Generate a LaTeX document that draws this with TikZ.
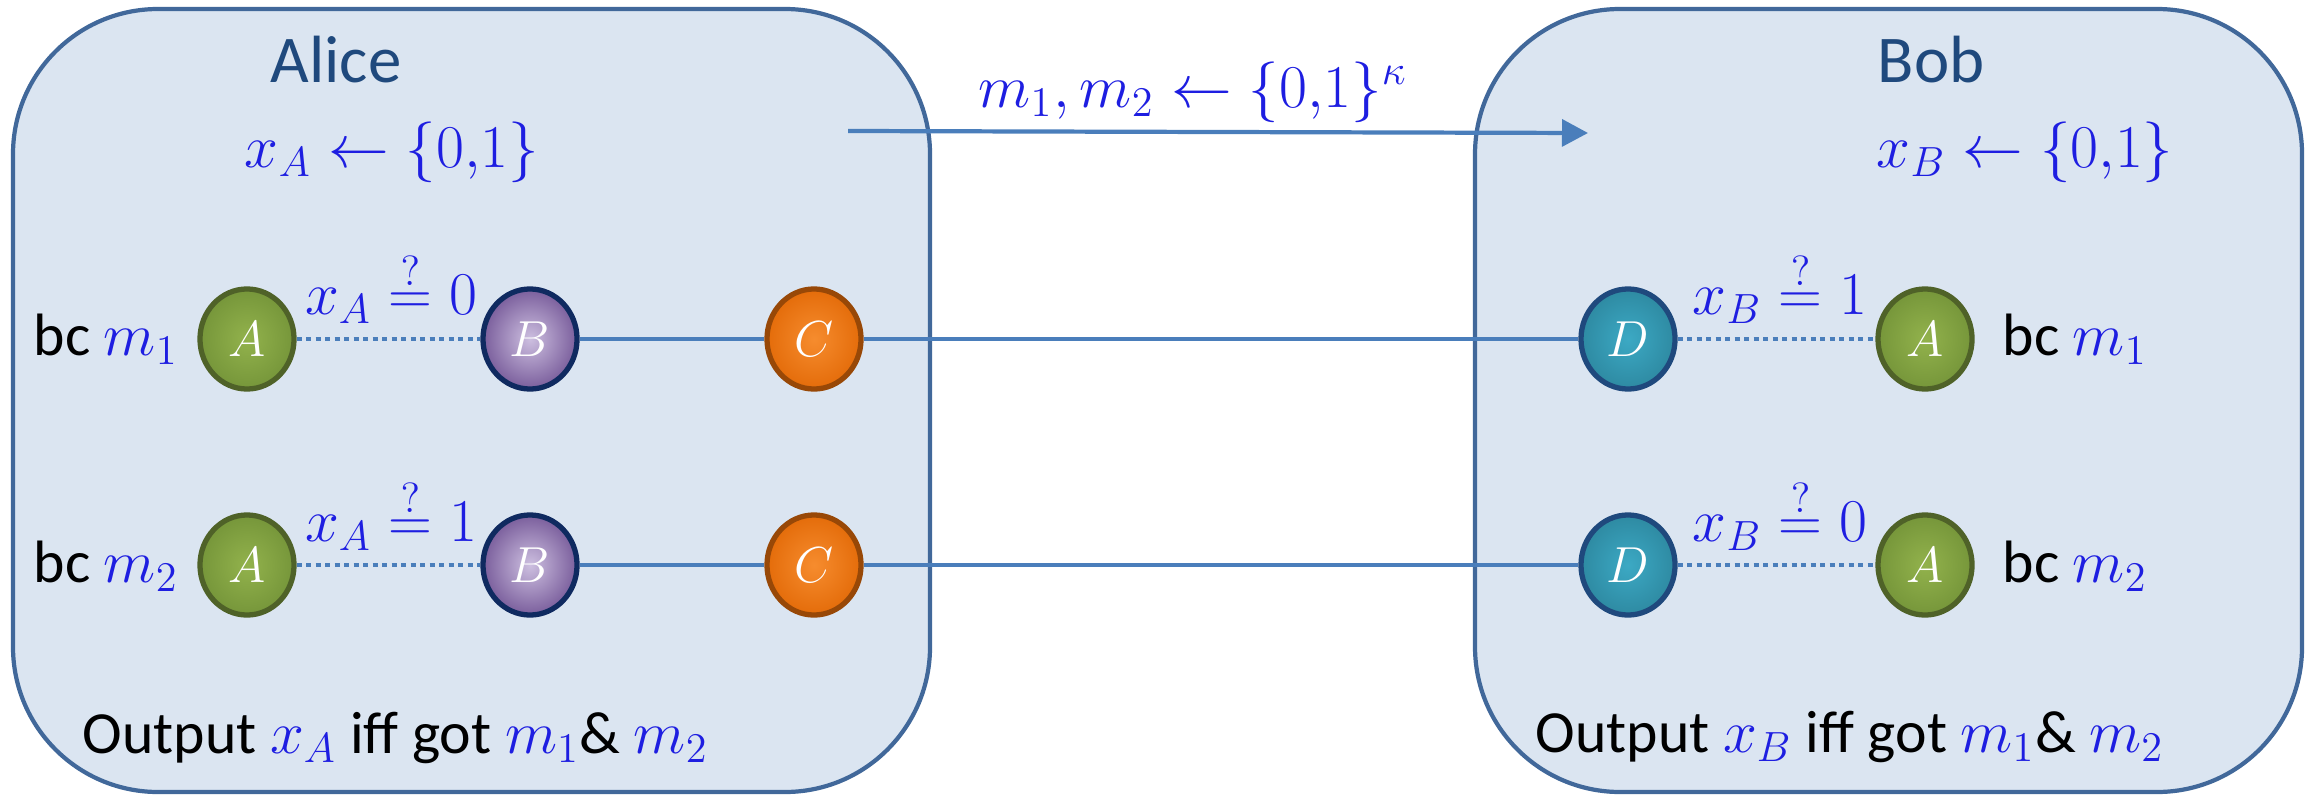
\documentclass[tikz,border=0pt]{standalone}
\usepackage{fontspec}
\setmainfont{Carlito}
\usetikzlibrary{shapes.geometric,arrows.meta}
\definecolor{boxfill}{HTML}{DBE5F1}
\definecolor{boxline}{HTML}{41689A}
\definecolor{conn}{HTML}{4A7EBB}
\definecolor{mblue}{RGB}{30,30,225}
\definecolor{namecol}{HTML}{1F497D}
\definecolor{ForestA}{HTML}{4F6228}
\definecolor{GreenIn}{HTML}{92B24C}
\definecolor{GreenOut}{HTML}{76963A}
\definecolor{NavyB}{HTML}{0F2A60}
\definecolor{PurpleIn}{HTML}{CDBFE0}
\definecolor{PurpleOut}{HTML}{7A5E9C}
\definecolor{BrownC}{HTML}{984807}
\definecolor{OrangeIn}{HTML}{F68C2E}
\definecolor{OrangeOut}{HTML}{E46C0A}
\definecolor{BlueD}{HTML}{1F497D}
\definecolor{TealIn}{HTML}{3CA9C4}
\definecolor{TealOut}{HTML}{2E8AA2}
\begin{document}
\begin{tikzpicture}[x=0.01cm,y=-0.01cm,
  party/.style={draw=boxline,line width=1.2pt,fill=boxfill,rounded corners=1.45cm},
  txt/.style={font=\fontsize{17}{20}\selectfont,inner sep=0pt},
  mtxt/.style={txt,text=mblue},
  ntxt/.style={font=\fontsize{19}{22}\selectfont,text=namecol,inner sep=0pt},
  ball/.style={ellipse,minimum width=0.94cm,minimum height=1.0cm,inner sep=0pt,
    line width=1.5pt,text=white,font=\fontsize{15}{17}\selectfont},
  nodeA/.style={ball,draw=ForestA,inner color=GreenIn,outer color=GreenOut},
  nodeB/.style={ball,draw=NavyB,inner color=PurpleIn,outer color=PurpleOut},
  nodeC/.style={ball,draw=BrownC,inner color=OrangeIn,outer color=OrangeOut},
  nodeD/.style={ball,draw=BlueD,inner color=TealIn,outer color=TealOut},
  solidc/.style={draw=conn,line width=1.2pt},
  dotc/.style={draw=conn,line width=1.2pt,dash pattern=on 1.5pt off 1.2pt},
]

\useasboundingbox (0,0) rectangle (2307,794);

% party boxes
\path[party] (13,9) rectangle (930,792);
\path[party] (1475,9) rectangle (2302,792);

% names and local samples
\node[ntxt,anchor=base] (alice) at (336,83) {Alice};
\node[ntxt,anchor=base] (bob) at (1931,83) {Bob};
\node[mtxt,anchor=base] (xa) at (392,167) {$x_A \leftarrow \{0{,}1\}$};
\node[mtxt,anchor=base] (xb) at (2025,167) {$x_B \leftarrow \{0{,}1\}$};

% top message arrow
\node[mtxt,anchor=base] (msg) at (1193,107) {$m_1, m_2 \leftarrow \{0{,}1\}^{\kappa}$};
\coordinate (arrS) at (848,131);
\coordinate (arrE) at (1588,133);
\draw[solidc,-{Triangle[length=7.4pt,width=7.6pt]}] (arrS) -- (arrE);

% balls row 1
\node[nodeA] (a1) at (247,339) {$A$};
\node[nodeB] (b1) at (530,339) {$B$};
\node[nodeC] (c1) at (814,339) {$C$};
\node[nodeD] (d1) at (1628,339) {$D$};
\node[nodeA] (e1) at (1925,339) {$A$};
% balls row 2
\node[nodeA] (a2) at (247,565) {$A$};
\node[nodeB] (b2) at (530,565) {$B$};
\node[nodeC] (c2) at (814,565) {$C$};
\node[nodeD] (d2) at (1628,565) {$D$};
\node[nodeA] (e2) at (1925,565) {$A$};

% connectors
\draw[dotc] (a1) -- (b1);
\draw[solidc] (b1) -- (c1);
\draw[solidc] (c1) -- (d1);
\draw[dotc] (d1) -- (e1);
\draw[dotc] (a2) -- (b2);
\draw[solidc] (b2) -- (c2);
\draw[solidc] (c2) -- (d2);
\draw[dotc] (d2) -- (e2);

% labels
\node[txt,anchor=base east] (bc1) at (179,355) {bc \textcolor{mblue}{$m_1$}};
\node[txt,anchor=base east] (bc2) at (179,582) {bc \textcolor{mblue}{$m_2$}};
\node[txt,anchor=base west] (bc3) at (2002,355) {bc \textcolor{mblue}{$m_1$}};
\node[txt,anchor=base west] (bc4) at (2002,582) {bc \textcolor{mblue}{$m_2$}};

\node[mtxt,anchor=base] (t1) at (391,314) {$x_A \stackrel{?}{=} 0$};
\node[mtxt,anchor=base] (t2) at (391,541) {$x_A \stackrel{?}{=} 1$};
\node[mtxt,anchor=base] (t3) at (1780,314) {$x_B \stackrel{?}{=} 1$};
\node[mtxt,anchor=base] (t4) at (1780,541) {$x_B \stackrel{?}{=} 0$};

\node[txt,anchor=base west] (outA) at (82,753) {Output \textcolor{mblue}{$x_A$} iff got \textcolor{mblue}{$m_1$}\& \textcolor{mblue}{$m_2$}};
\node[txt,anchor=base west] (outB) at (1535,752) {Output \textcolor{mblue}{$x_B$} iff got \textcolor{mblue}{$m_1$}\& \textcolor{mblue}{$m_2$}};
\end{tikzpicture}
\end{document}
